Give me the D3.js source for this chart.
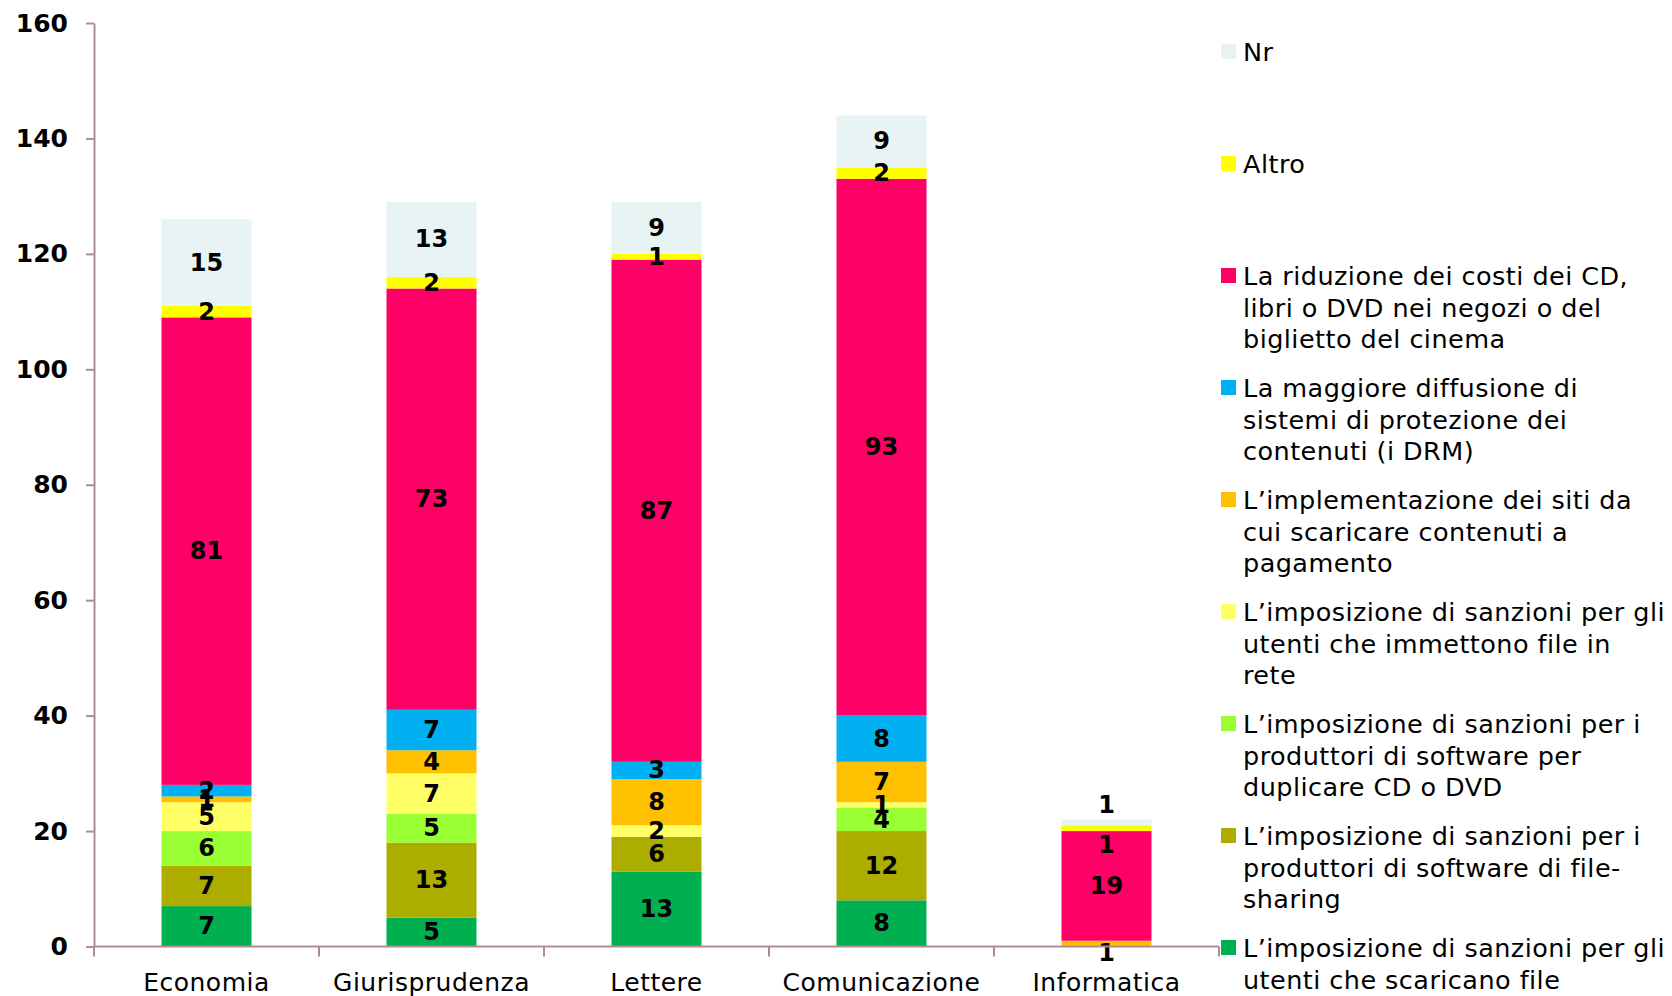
<!DOCTYPE html>
<html>
<head>
<meta charset="utf-8">
<script src="https://cdn.jsdelivr.net/npm/d3@7"></script>
<style>
  html, body { margin: 0; padding: 0; background: #ffffff; }
  svg { display: block; }
  text { font-family: "DejaVu Sans", Verdana, sans-serif; fill: #000; }
</style>
</head>
<body>
<svg id="chart" width="1672" height="996"></svg>
<script>
// ---- Data ----
const categories = ["Economia", "Giurisprudenza", "Lettere", "Comunicazione", "Informatica"];

// series in stacking order (bottom to top)
const seriesNames = [
  "scaricano", "filesharing", "duplicare", "immettono",
  "implementazione", "drm", "riduzione", "altro", "nr"
];
const scaricano       = [7, 5, 13, 8, 0];
const filesharing     = [7, 13, 6, 12, 0];
const duplicare       = [6, 5, 0, 4, 0];
const immettono       = [5, 7, 2, 1, 0];
const implementazione = [1, 4, 8, 7, 1];
const drm             = [2, 7, 3, 8, 0];
const riduzione       = [81, 73, 87, 93, 19];
const altro           = [2, 2, 1, 2, 1];
const nr              = [15, 13, 9, 9, 1];

const seriesValues = { scaricano, filesharing, duplicare, immettono, implementazione, drm, riduzione, altro, nr };

const seriesColors = {
  scaricano: "#00B050",
  filesharing: "#ADAD00",
  duplicare: "#99FF33",
  immettono: "#FFFF66",
  implementazione: "#FFC000",
  drm: "#00B0F0",
  riduzione: "#FF0066",
  altro: "#FFFF00",
  nr: "#E8F4F4"
};

// legend labels (as wrapped in the reference)
const legendLabels = {
  nr: ["Nr"],
  altro: ["Altro"],
  riduzione: ["La riduzione dei costi dei CD,", "libri o DVD nei negozi o del", "biglietto del cinema"],
  drm: ["La maggiore diffusione di", "sistemi di protezione dei", "contenuti (i DRM)"],
  implementazione: ["L\u2019implementazione dei siti da", "cui scaricare contenuti a", "pagamento"],
  immettono: ["L\u2019imposizione di sanzioni per gli", "utenti che immettono file in", "rete"],
  duplicare: ["L\u2019imposizione di sanzioni per i", "produttori di software per", "duplicare CD o DVD"],
  filesharing: ["L\u2019imposizione di sanzioni per i", "produttori di software di file-", "sharing"],
  scaricano: ["L\u2019imposizione di sanzioni per gli", "utenti che scaricano file"]
};

const yTicks = [0, 20, 40, 60, 80, 100, 120, 140, 160];

// ---- Layout ----
const svg = d3.select("#chart");
const plot = { left: 94, right: 1219, top: 23, bottom: 946.5 };
const axisColor = "#B08C90";

const x = d3.scaleBand()
  .domain(categories)
  .range([plot.left, plot.right])
  .paddingInner(0.6)
  .paddingOuter(0.3);

const y = d3.scaleLinear()
  .domain([0, 160])
  .range([plot.bottom, plot.top]);

// stacked data
const table = categories.map((c, i) => {
  const row = { category: c };
  seriesNames.forEach(s => row[s] = seriesValues[s][i]);
  return row;
});
const stacked = d3.stack().keys(seriesNames)(table);

// bars
const layers = svg.append("g").selectAll("g")
  .data(stacked)
  .join("g")
  .attr("fill", d => seriesColors[d.key]);

layers.selectAll("rect")
  .data(d => d.map(v => ({ v, key: d.key })))
  .join("rect")
  .attr("x", d => x(d.v.data.category))
  .attr("width", x.bandwidth())
  .attr("y", d => y(d.v[1]))
  .attr("height", d => Math.max(0, y(d.v[0]) - y(d.v[1])));

// value labels: centred in segments, with a light collision nudge
const labelG = svg.append("g");
categories.forEach((c, ci) => {
  const labs = [];
  stacked.forEach(layer => {
    const v = layer[ci];
    const val = v[1] - v[0];
    if (val <= 0) return;
    labs.push({ val, cy: y((v[0] + v[1]) / 2) });
  });
  // labels almost on top of each other are spread apart
  for (let i = 1; i < labs.length; i++) {
    const lo = labs[i - 1], hi = labs[i];
    if (Math.abs(lo.cy - hi.cy) < 7) {
      hi.cy -= 17;
      lo.cy += 17;
    }
  }
  // a label sitting on the axis line is moved just below it
  labs.forEach(l => {
    if (plot.bottom - l.cy < 4) l.cy = plot.bottom + 6;
  });
  labs.forEach(l => {
    labelG.append("text")
      .attr("x", x(c) + x.bandwidth() / 2)
      .attr("y", l.cy)
      .attr("text-anchor", "middle")
      .attr("dominant-baseline", "central")
      .style("font-size", "24px")
      .style("font-weight", "bold")
      .text(l.val);
  });
});

// y axis
const yAxis = d3.axisLeft(y).tickValues(yTicks).tickSize(8).tickPadding(18).tickSizeOuter(0);
const gy = svg.append("g").attr("transform", `translate(${plot.left},0)`).call(yAxis);
gy.select(".domain").attr("stroke", axisColor).attr("stroke-width", 2);
gy.selectAll(".tick line").attr("stroke", axisColor).attr("stroke-width", 2);
gy.selectAll(".tick text")
  .style("font-family", "'DejaVu Sans', Verdana, sans-serif")
  .style("font-size", "25px")
  .style("font-weight", "bold")
  .attr("fill", "#000");

// x axis line + boundary ticks
const gx = svg.append("g");
gx.append("line")
  .attr("x1", plot.left).attr("x2", plot.right)
  .attr("y1", y(0)).attr("y2", y(0))
  .attr("stroke", axisColor).attr("stroke-width", 2);
const bounds = d3.range(categories.length + 1).map(i => plot.left + i * (plot.right - plot.left) / categories.length);
gx.selectAll("line.b")
  .data(bounds)
  .join("line")
  .attr("class", "b")
  .attr("x1", d => d).attr("x2", d => d)
  .attr("y1", y(0)).attr("y2", y(0) + 10)
  .attr("stroke", axisColor).attr("stroke-width", 2);
gx.selectAll("text")
  .data(categories)
  .join("text")
  .attr("x", d => x(d) + x.bandwidth() / 2)
  .attr("y", 991)
  .attr("text-anchor", "middle")
  .style("font-size", "25px")
  .style("letter-spacing", "0.5px")
  .text(d => d);

// legend
const legendOrder = seriesNames.slice().reverse();
const legend = svg.append("g");
legendOrder.forEach((k, i) => {
  const cy = 51.5 + i * 112;
  legend.append("rect")
    .attr("x", 1221).attr("y", cy - 7.5)
    .attr("width", 15).attr("height", 15)
    .attr("fill", seriesColors[k]);
  const t = legend.append("text")
    .attr("x", 1243)
    .attr("y", cy + 9.5)
    .style("font-size", "25.5px")
    .style("letter-spacing", "0.45px");
  legendLabels[k].forEach((line, j) => {
    t.append("tspan")
      .attr("x", 1243)
      .attr("dy", j === 0 ? 0 : 31.5)
      .text(line);
  });
});
</script>
</body>
</html>
